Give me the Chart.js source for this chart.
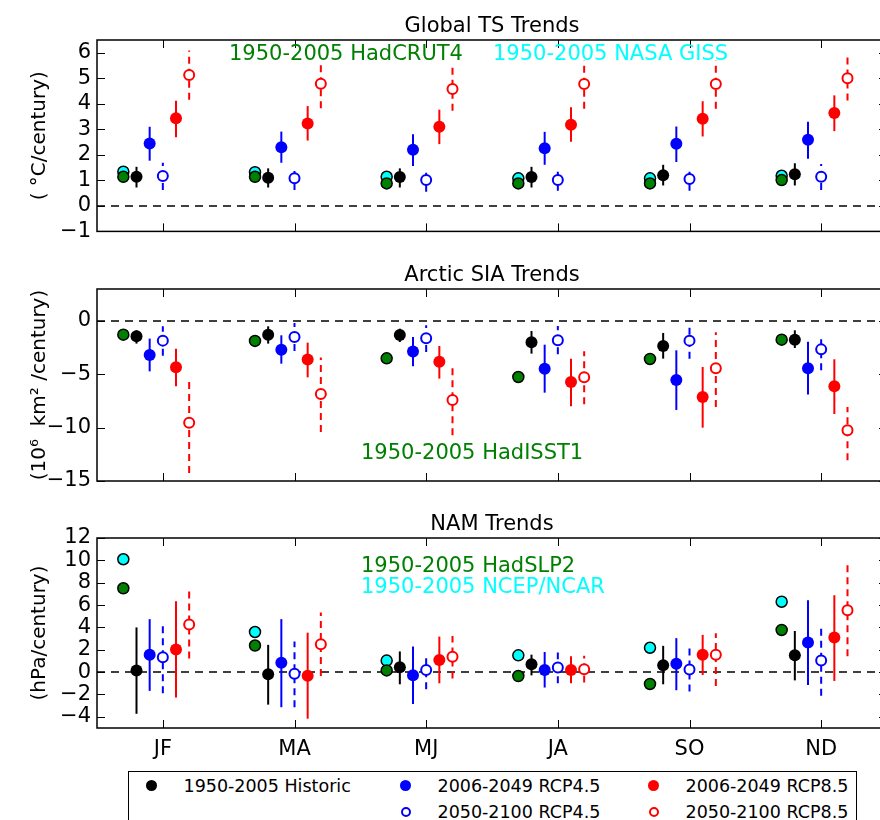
<!DOCTYPE html>
<html>
<head>
<meta charset="utf-8">
<script src="https://cdn.jsdelivr.net/npm/chart.js@4.4.1/dist/chart.umd.min.js"></script>
<style>
body{margin:0;background:#fff;}
#wrap{position:relative;width:880px;height:820px;overflow:hidden;font-family:"DejaVu Sans";}
#wrap canvas{position:absolute;left:0;}
#legend{position:absolute;left:128px;top:771px;width:729px;height:80px;border:1.5px solid #000;box-sizing:border-box;background:#fff;}
.mk{position:absolute;border-radius:50%;box-sizing:border-box;}
.lt{position:absolute;font-size:17.5px;line-height:20px;white-space:nowrap;color:#000;}
</style>
</head>
<body>
<div id="wrap">
<canvas id="ts" width="900" height="250" style="top:0px"></canvas>
<canvas id="sia" width="900" height="250" style="top:250px"></canvas>
<canvas id="nam" width="900" height="265" style="top:500px"></canvas>
<div id="legend"></div>
</div>
<script>
// seasons on the x axis
const seasons=['JF','MA','MJ','JA','SO','ND']

// tick labels of each panel
const tsTicks=[-1,0,1,2,3,4,5,6]
const siaTicks=[-15,-10,-5,0]
const namTicks=[-4,-2,0,2,4,6,8,10,12]

/* Global TS trends (C/century) */
const tsHadcrut=[1.14,1.14,0.88,0.88,0.88,1.01]
const tsGiss=[1.34,1.32,1.14,1.08,1.08,1.18]
const tsHist=[1.14,1.10,1.13,1.13,1.20,1.24]
const tsHistErr=[[0.72,1.53],[0.72,1.47],[0.72,1.47],[0.72,1.53],[0.80,1.61],[0.80,1.67]]
const ts45a=[2.44,2.30,2.20,2.26,2.43,2.59]
const ts45aErr=[[1.77,3.10],[1.69,2.91],[1.56,2.81],[1.61,2.90],[1.72,3.11],[1.85,3.30]]
const ts45b=[1.17,1.08,1.01,1.01,1.05,1.14]
const ts45bErr=[[0.62,1.69],[0.62,1.56],[0.55,1.47],[0.59,1.51],[0.59,1.53],[0.62,1.64]]
const ts85a=[3.43,3.23,3.10,3.18,3.41,3.64]
const ts85aErr=[[2.69,4.12],[2.56,3.91],[2.42,3.77],[2.51,3.86],[2.72,4.10],[2.93,4.33]]
const ts85b=[5.13,4.79,4.58,4.78,4.78,5.00]
const ts85bErr=[[4.16,6.09],[3.83,5.67],[3.73,5.45],[3.81,5.70],[3.81,5.70],[4.13,5.89]]

/* Arctic SIA trends (10^6 km2/century) */
const siaHadisst=[-1.28,-1.87,-3.50,-5.25,-3.56,-1.75]
const siaHist=[-1.43,-1.28,-1.31,-2.00,-2.34,-1.75]
const siaHistErr=[[-2.12,-0.87],[-2.12,-0.50],[-1.97,-0.72],[-3.06,-0.94],[-3.53,-1.12],[-2.53,-0.87]]
const sia45a=[-3.19,-2.69,-2.87,-4.47,-5.53,-4.44]
const sia45aErr=[[-4.72,-1.65],[-4.00,-1.34],[-4.25,-1.50],[-6.72,-2.22],[-8.34,-2.75],[-6.90,-1.94]]
const sia45b=[-1.84,-1.50,-1.62,-1.81,-1.84,-2.66]
const sia45bErr=[[-3.25,-0.50],[-2.81,-0.19],[-2.90,-0.41],[-3.12,-0.47],[-3.53,-0.56],[-4.62,-1.65]]
const sia85a=[-4.34,-3.62,-3.81,-5.72,-7.12,-6.12]
const sia85aErr=[[-6.12,-2.59],[-5.28,-2.03],[-5.40,-2.34],[-8.00,-3.53],[-10.0,-4.31],[-8.72,-3.59]]
const sia85b=[-9.53,-6.84,-7.40,-5.28,-4.44,-10.25]
const sia85bErr=[[-14.25,-5.25],[-10.4,-3.43],[-10.7,-4.25],[-7.81,-2.84],[-8.06,-1.06],[-13.06,-8.06]]

/* NAM trends (hPa/century) */
const namHadslp=[7.5,2.38,0.15,-0.35,-1.06,3.77]
const namNcep=[10.1,3.59,1.03,1.5,2.18,6.3]
const namHist=[0.15,-0.2,0.44,0.71,0.62,1.5]
const namHistErr=[[-3.73,4.0],[-2.91,2.44],[-1.09,1.85],[-0.29,1.56],[-1.09,2.35],[-0.74,3.68]]
const nam45a=[1.56,0.83,-0.29,0.18,0.74,2.65]
const nam45aErr=[[-1.68,4.74],[-3.14,4.74],[-2.85,2.3],[-1.38,1.8],[-1.62,3.04],[-1.15,6.42]]
const nam45b=[1.32,-0.15,0.18,0.41,0.24,1.03]
const nam45bErr=[[-1.88,4.56],[-3.14,2.74],[-1.53,1.32],[-1.0,1.76],[-1.73,2.15],[-2.12,4.12]]
const nam85a=[2.03,-0.32,1.09,0.18,1.56,3.09]
const nam85aErr=[[-2.26,6.33],[-4.17,3.53],[-1.0,3.18],[-1.0,1.41],[-0.26,3.33],[-0.79,6.88]]
const nam85b=[4.27,2.5,1.38,0.26,1.56,5.53]
const nam85bErr=[[1.21,7.3],[-0.35,5.33],[-0.56,3.24],[-0.94,1.47],[-1.24,3.47],[1.41,9.71]]

const FONT='DejaVu Sans'
const OBS_OFF=-0.3

// styles of the model series, same order in every panel
const simStyle=[
{label:'1950-2005 Historic',color:'#000000',off:-0.2,open:false},
{label:'2006-2049 RCP4.5',color:'#0000ff',off:-0.1,open:false},
{label:'2050-2100 RCP4.5',color:'#0000ff',off:0,open:true},
{label:'2006-2049 RCP8.5',color:'#ff0000',off:0.1,open:false},
{label:'2050-2100 RCP8.5',color:'#ff0000',off:0.2,open:true}
]

function minus(v){return v<0?'\u2212'+Math.abs(v):''+v}

const decor={
id:'decor',
beforeDatasetsDraw(chart,args,o){
const ctx=chart.ctx,a=chart.chartArea,x=chart.scales.x,y=chart.scales.y
ctx.save()
// zero line
ctx.strokeStyle='#000';ctx.lineWidth=1.5;ctx.setLineDash([8,6])
let y0=y.getPixelForValue(0)
ctx.beginPath();ctx.moveTo(a.left,y0);ctx.lineTo(a.right,y0);ctx.stroke()
// error bars
chart.data.datasets.forEach(ds=>{
if(!ds.err)return
ctx.strokeStyle=ds.barColor;ctx.lineWidth=2
ctx.setLineDash(ds.dashed?[7,5]:[])
ds.err.forEach((e,i)=>{
let px=x.getPixelForValue(ds.data[i].x)
ctx.beginPath()
ctx.moveTo(px,y.getPixelForValue(e[0]))
ctx.lineTo(px,y.getPixelForValue(e[1]))
ctx.stroke()
})
})
ctx.restore()
},
afterDraw(chart,args,o){
const ctx=chart.ctx,a=chart.chartArea,x=chart.scales.x,y=chart.scales.y
ctx.save()
ctx.strokeStyle='#000';ctx.lineWidth=1.5
ctx.strokeRect(a.left,a.top,a.width,a.height)
// ticks pointing inward
ctx.lineWidth=1
ctx.beginPath()
x.ticks.forEach(t=>{
let px=Math.round(x.getPixelForValue(t.value))+0.5
ctx.moveTo(px,a.bottom);ctx.lineTo(px,a.bottom-8)
ctx.moveTo(px,a.top);ctx.lineTo(px,a.top+8)
})
y.ticks.forEach(t=>{
let py=Math.round(y.getPixelForValue(t.value))+0.5
ctx.moveTo(a.left,py);ctx.lineTo(a.left+8,py)
ctx.moveTo(a.right,py);ctx.lineTo(a.right-8,py)
})
ctx.stroke()
// title
ctx.fillStyle='#000'
ctx.font='21px "'+FONT+'"'
ctx.textAlign='center';ctx.textBaseline='alphabetic'
ctx.fillText(o.title,(a.left+a.right)/2,a.top-8)
// notes
ctx.textAlign='left'
o.notes.forEach(n=>{
ctx.fillStyle=n.color
ctx.fillText(n.text,a.left+n.dx,a.top+n.dy)
})
// y label
ctx.fillStyle='#000'
ctx.translate(40,(a.top+a.bottom)/2)
ctx.rotate(-Math.PI/2)
ctx.textAlign='center';ctx.textBaseline='middle'
ctx.font='20px "'+FONT+'"'
ctx.fillText(o.ylabel,0,0)
ctx.restore()
}
}

function makePanel(id,p){
let datasets=[]
// model series first in the list so they draw on top
p.sims.forEach((s,k)=>{
let st=simStyle[k]
datasets.push({
data:s[0].map((v,i)=>({x:i+st.off,y:v})),
err:s[1],
barColor:st.color,
dashed:st.open,
pointRadius:st.open?5:6,
pointBackgroundColor:st.open?'#ffffff':st.color,
pointBorderColor:st.color,
pointBorderWidth:st.open?2:0
})
})
// observations: later entries drawn underneath
p.obs.slice().reverse().forEach(ob=>{
datasets.push({
data:ob.vals.map((v,i)=>({x:i+OBS_OFF,y:v})),
pointRadius:5.5,
pointBackgroundColor:ob.color,
pointBorderColor:'#000',
pointBorderWidth:1.5
})
})
new Chart(document.getElementById(id),{
type:'scatter',
data:{datasets},
options:{
responsive:false,
animation:false,
devicePixelRatio:1,
layout:{padding:{top:p.top,right:13,left:0,bottom:0}},
plugins:{legend:{display:false},tooltip:{enabled:false},
decor:{title:p.title,ylabel:p.ylabel,notes:p.notes}},
scales:{
x:{type:'linear',min:-0.5,max:5.5,
grid:{display:false,drawTicks:false},border:{display:false},
afterBuildTicks:s=>{s.ticks=seasons.map((_,i)=>({value:i}))},
afterFit:s=>{s.height=p.xh},
ticks:{display:p.showX,autoSkip:false,maxRotation:0,padding:9,color:'#000',
font:{family:FONT,size:21},callback:v=>seasons[v]}},
y:{min:p.min,max:p.max,
grid:{display:false,drawTicks:false},border:{display:false},
afterBuildTicks:s=>{s.ticks=p.ticks.map(v=>({value:v}))},
afterFit:s=>{s.width=97},
ticks:{autoSkip:false,padding:6,color:'#000',font:{family:FONT,size:21},callback:v=>minus(v)}}
}
},
plugins:[decor]
})
}

makePanel('ts',{
title:'Global TS Trends',ylabel:'( \u00b0C/century)',min:-1,max:6.5,ticks:tsTicks,
top:40,xh:18,showX:false,
obs:[{vals:tsGiss,color:'#00ffff'},{vals:tsHadcrut,color:'#008000'}],
sims:[[tsHist,tsHistErr],[ts45a,ts45aErr],[ts45b,ts45bErr],[ts85a,ts85aErr],[ts85b,ts85bErr]],
notes:[{text:'1950-2005 HadCRUT4',color:'#008000',dx:132,dy:20},
{text:'1950-2005 NASA GISS',color:'#00ffff',dx:396,dy:20}]
})

makePanel('sia',{
title:'Arctic SIA Trends',ylabel:'(10\u2076  km\u00b2 /century)',min:-15,max:3,ticks:siaTicks,
top:39,xh:19,showX:false,
obs:[{vals:siaHadisst,color:'#008000'}],
sims:[[siaHist,siaHistErr],[sia45a,sia45aErr],[sia45b,sia45bErr],[sia85a,sia85aErr],[sia85b,sia85bErr]],
notes:[{text:'1950-2005 HadISST1',color:'#008000',dx:264,dy:170}]
})

makePanel('nam',{
title:'NAM Trends',ylabel:'(hPa/century)',min:-5,max:12,ticks:namTicks,
top:38,xh:37,showX:true,
obs:[{vals:namNcep,color:'#00ffff'},{vals:namHadslp,color:'#008000'}],
sims:[[namHist,namHistErr],[nam45a,nam45aErr],[nam45b,nam45bErr],[nam85a,nam85aErr],[nam85b,nam85bErr]],
notes:[{text:'1950-2005 HadSLP2',color:'#008000',dx:264,dy:34},
{text:'1950-2005 NCEP/NCAR',color:'#00ffff',dx:264,dy:55}]
})

/* legend */
const legPos=[[24,15],[278,15],[278,41],[526,15],[526,41]]
let leg=document.getElementById('legend')
simStyle.forEach((st,k)=>{
let [cx,cy]=legPos[k]
let m=document.createElement('div')
m.className='mk'
let d=st.open?10:11
m.style.width=d+'px';m.style.height=d+'px'
m.style.left=(cx-d/2-1.5)+'px';m.style.top=(cy-d/2-1.5)+'px'
if(st.open){m.style.border='2px solid '+st.color;m.style.background='#fff'}
else m.style.background=st.color
leg.appendChild(m)
let t=document.createElement('div')
t.className='lt'
t.innerText=st.label
t.style.left=(cx+32-1.5)+'px';t.style.top=(cy-10-1.5)+'px'
leg.appendChild(t)
})
</script>
</body>
</html>
